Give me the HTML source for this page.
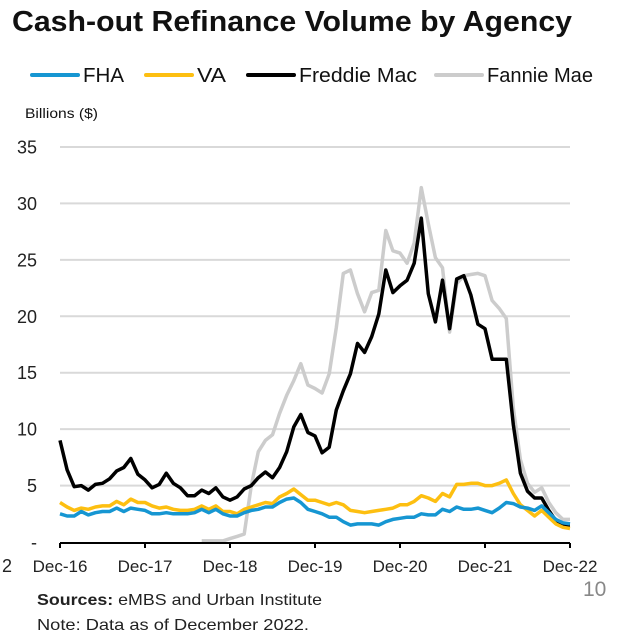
<!DOCTYPE html>
<html><head><meta charset="utf-8"><style>
html,body{margin:0;padding:0;background:#fff;}
svg{display:block;font-family:"Liberation Sans",sans-serif;}
</style></head><body>
<svg id="chart" width="630" height="635" viewBox="0 0 630 635">
<text x="12" y="31" font-size="29" font-weight="bold" fill="#111" textLength="560" lengthAdjust="spacingAndGlyphs">Cash-out Refinance Volume by Agency</text>
<g id="legend"></g>
<text x="25" y="118" font-size="14" fill="#111" textLength="73" lengthAdjust="spacingAndGlyphs">Billions ($)</text>
<g id="grid"></g><g id="series"></g><g id="axis"></g>
<text x="2" y="572" font-size="18" fill="#222">2</text>
<text x="583" y="596" font-size="21" fill="#888">10</text>
<text x="37" y="605" font-size="16" fill="#222" textLength="285" lengthAdjust="spacingAndGlyphs"><tspan font-weight="bold">Sources:</tspan> eMBS and Urban Institute</text>
<text x="37" y="630" font-size="16" fill="#222" textLength="272" lengthAdjust="spacingAndGlyphs">Note: Data as of December 2022.</text>
</svg>
<script>
const xTickLabels=["Dec-16","Dec-17","Dec-18","Dec-19","Dec-20","Dec-21","Dec-22"];
const yTicks=[0,5,10,15,20,25,30,35];
const fha=[2.5,2.3,2.3,2.7,2.4,2.6,2.7,2.7,3.0,2.7,3.0,2.9,2.8,2.5,2.5,2.6,2.5,2.5,2.5,2.6,2.9,2.6,2.9,2.5,2.3,2.3,2.6,2.8,2.9,3.1,3.1,3.5,3.8,3.9,3.5,2.9,2.7,2.5,2.2,2.2,1.8,1.5,1.6,1.6,1.6,1.5,1.8,2.0,2.1,2.2,2.2,2.5,2.4,2.4,2.9,2.7,3.1,2.9,2.9,3.0,2.8,2.6,3.0,3.5,3.4,3.1,3.0,2.8,3.2,2.6,2.0,1.7,1.6];
const va=[3.5,3.1,2.8,3.0,2.9,3.1,3.2,3.2,3.6,3.3,3.8,3.5,3.5,3.2,3.0,3.1,2.9,2.8,2.8,2.9,3.2,2.9,3.2,2.7,2.7,2.5,2.9,3.1,3.3,3.5,3.4,4.0,4.3,4.7,4.2,3.7,3.7,3.5,3.3,3.5,3.3,2.8,2.7,2.6,2.7,2.8,2.9,3.0,3.3,3.3,3.6,4.1,3.9,3.6,4.3,4.0,5.1,5.1,5.2,5.2,5.0,5.0,5.2,5.5,4.3,3.3,2.8,2.3,2.8,2.2,1.6,1.3,1.2];
const freddie=[9.0,6.4,4.9,5.0,4.6,5.1,5.2,5.6,6.3,6.6,7.4,6.0,5.5,4.8,5.1,6.1,5.2,4.8,4.1,4.1,4.6,4.3,4.8,4.0,3.7,4.0,4.7,5.0,5.7,6.2,5.7,6.6,8.0,10.2,11.3,9.7,9.4,7.9,8.4,11.7,13.4,14.9,17.6,16.8,18.2,20.2,24.1,22.1,22.7,23.2,24.7,28.7,22.0,19.5,23.2,18.9,23.3,23.6,21.9,19.3,18.9,16.2,16.2,16.2,10.4,6.1,4.5,3.9,3.9,2.8,1.9,1.5,1.5];
const fannie=[null,null,null,null,null,null,null,null,null,null,null,null,null,null,null,null,null,null,null,null,0.1,0.1,0.1,0.1,0.3,0.5,0.7,5.0,8.0,9.0,9.5,11.4,13.0,14.3,15.8,13.9,13.6,13.2,14.9,19.0,23.8,24.1,22.0,20.4,22.1,22.3,27.6,25.8,25.6,24.7,26.5,31.4,28.2,25.2,24.3,18.6,22.9,23.6,23.7,23.8,23.6,21.4,20.7,19.8,11.9,7.3,5.2,4.4,4.8,3.5,2.6,2.0,2.0];
const seriesNames=["FHA","VA","Freddie Mac","Fannie Mae"];
const seriesColors=["#1696d2","#fdbf11","#000000","#cccccc"];
const seriesData=[fha,va,freddie,fannie];

const X0=60,X1=570,Y0=542,Y1=147;
const N=fha.length;
const xS=i=>X0+(X1-X0)*i/(N-1);
const yS=v=>Y0-(Y0-Y1)*v/35;
const NS="http://www.w3.org/2000/svg";
function mk(t,a,p){const e=document.createElementNS(NS,t);for(const k in a)e.setAttribute(k,a[k]);p.appendChild(e);return e;}
const grid=document.getElementById('grid'),axis=document.getElementById('axis'),ser=document.getElementById('series'),leg=document.getElementById('legend');
yTicks.forEach(v=>{
  if(v>0){const l=mk('line',{x1:X0,x2:X1,y1:yS(v),y2:yS(v),stroke:'#d9d9d9','stroke-width':2},grid);
  
  }
  const t=mk('text',{x:37,y:yS(v)+6.5,'text-anchor':'end','font-size':18,fill:'#222'},axis);
  t.textContent=v===0?'-':String(v);
  
  
});
const ax=mk('line',{x1:X0,x2:X1,y1:Y0+1,y2:Y0+1,stroke:'#000','stroke-width':2},axis);


xTickLabels.forEach((s,k)=>{
  const x=xS(k*12);
  const tk=mk('line',{x1:x,x2:x,y1:Y0+1,y2:Y0+6,stroke:'#000','stroke-width':2},axis);
  
  
  const t=mk('text',{x:x,y:572,'text-anchor':'middle','font-size':17,fill:'#222'},axis);
  t.textContent=s;
  
  
});
[3,2,1,0].forEach(s=>{
  const d=seriesData[s];let p='';let pen=false;
  d.forEach((v,i)=>{if(v==null){pen=false;return;}p+=(pen?'L':'M')+xS(i).toFixed(1)+','+yS(v).toFixed(1);pen=true;});
  const path=mk('path',{d:p,fill:'none',stroke:seriesColors[s],'stroke-width':3.5,'stroke-linejoin':'round'},ser);
  
  
});
const legX=[32,146,248,436];
const legW=[41,29,118,106];
seriesNames.forEach((n,s)=>{
  const g=mk('g',{},leg);
  
  
  mk('line',{x1:legX[s],x2:legX[s]+46,y1:75,y2:75,stroke:seriesColors[s],'stroke-width':4,'stroke-linecap':'round'},g);
  const t=mk('text',{x:legX[s]+51,y:82,'font-size':20,fill:'#111',textLength:legW[s],lengthAdjust:'spacingAndGlyphs'},g);
  t.textContent=n;
});
</script>
</body></html>
